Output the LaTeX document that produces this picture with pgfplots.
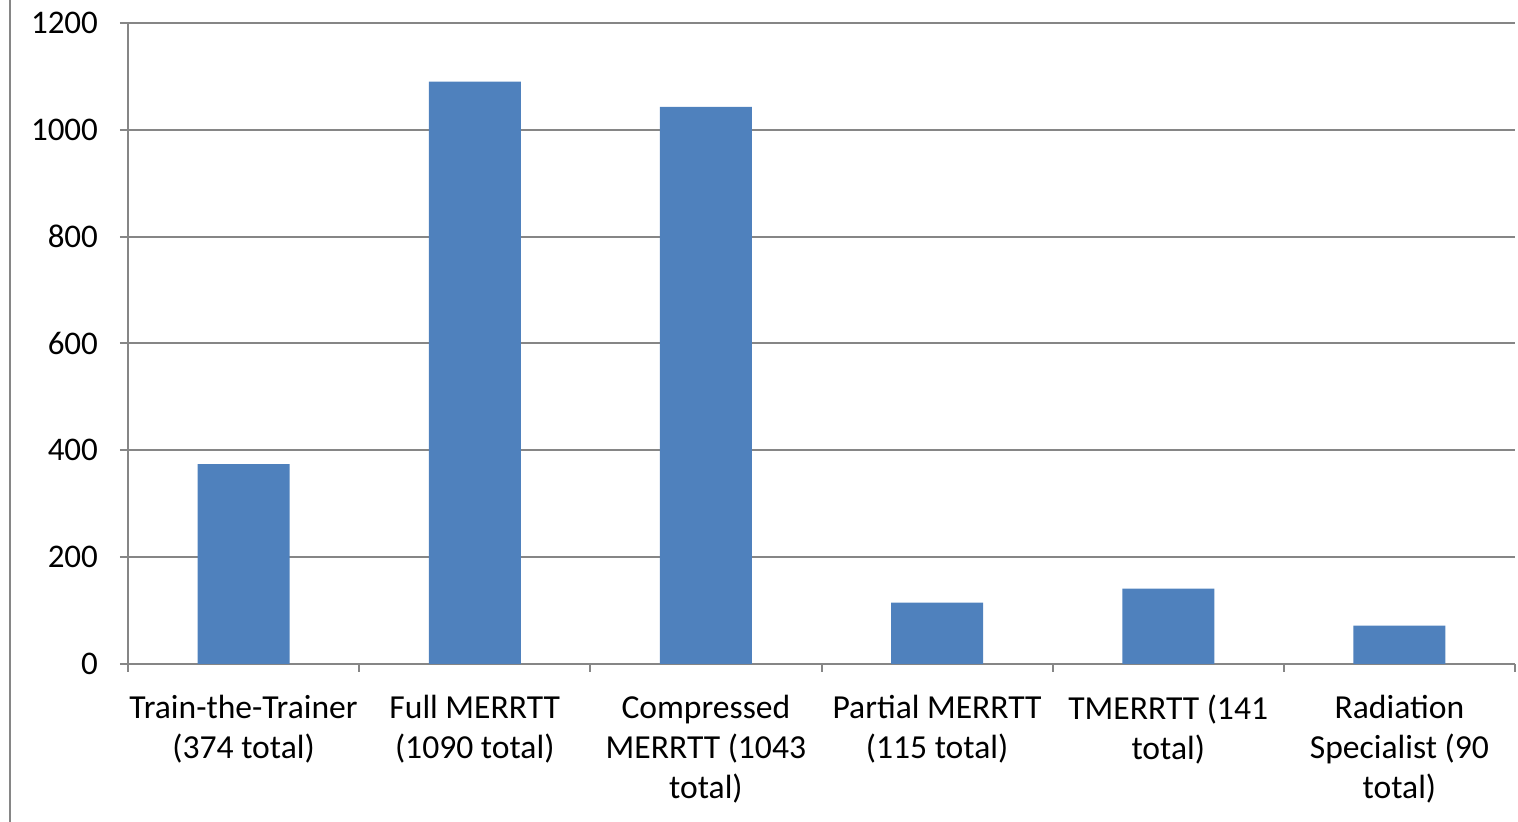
\documentclass[border=0pt]{standalone}
\usepackage{pgfplots}
\pgfplotsset{compat=1.18}
\usepackage{fontspec}
\setmainfont{Carlito}
\definecolor{barblue}{HTML}{4F81BD}
\definecolor{gridgray}{HTML}{868686}
\begin{document}
\begin{tikzpicture}
\path[use as bounding box] (0,0) rectangle (759pt,411pt);
\draw[gridgray, line width=1pt] (5pt,0) -- (5pt,411pt);
\begin{axis}[
  at={(64pt,79pt)}, anchor=south west,
  scale only axis, width=693.5pt, height=320.5pt,
  ymin=0, ymax=1200, ytick={0,200,...,1200},
  xmin=-0.5, xmax=5.5,
  axis x line*=bottom, axis y line*=left,
  axis line style={gridgray, line width=1pt},
  ymajorgrids, grid style={gridgray, line width=1pt},
  tick style={gridgray, line width=1pt},
  major tick length=4pt, minor tick length=4pt, tick align=outside,
  xtick={0,...,5},
  major x tick style={draw=none},
  minor xtick={-0.5,0.5,...,5.5},
  xticklabels={Train-the-Trainer\\(374 total), Full MERRTT\\(1090 total), Compressed\\MERRTT (1043\\total), Partial MERRTT\\(115 total), TMERRTT (141\\total), Radiation\\Specialist (90\\total)},
  x tick label style={align=center, font=\fontsize{16.8}{20}\selectfont, text=black, yshift=-8pt},
  y tick label style={font=\fontsize{16.5}{20}\selectfont, text=black, xshift=-7.5pt},
  /pgf/number format/assume math mode=true,
  /pgf/number format/1000 sep={},
  ybar, bar width=46pt,
  clip=false,
]
\addplot[fill=barblue, draw=none] coordinates {(0,374) (1,1090) (2,1043) (3,115) (4,141) (5,72)};
\end{axis}
\end{tikzpicture}
\end{document}
